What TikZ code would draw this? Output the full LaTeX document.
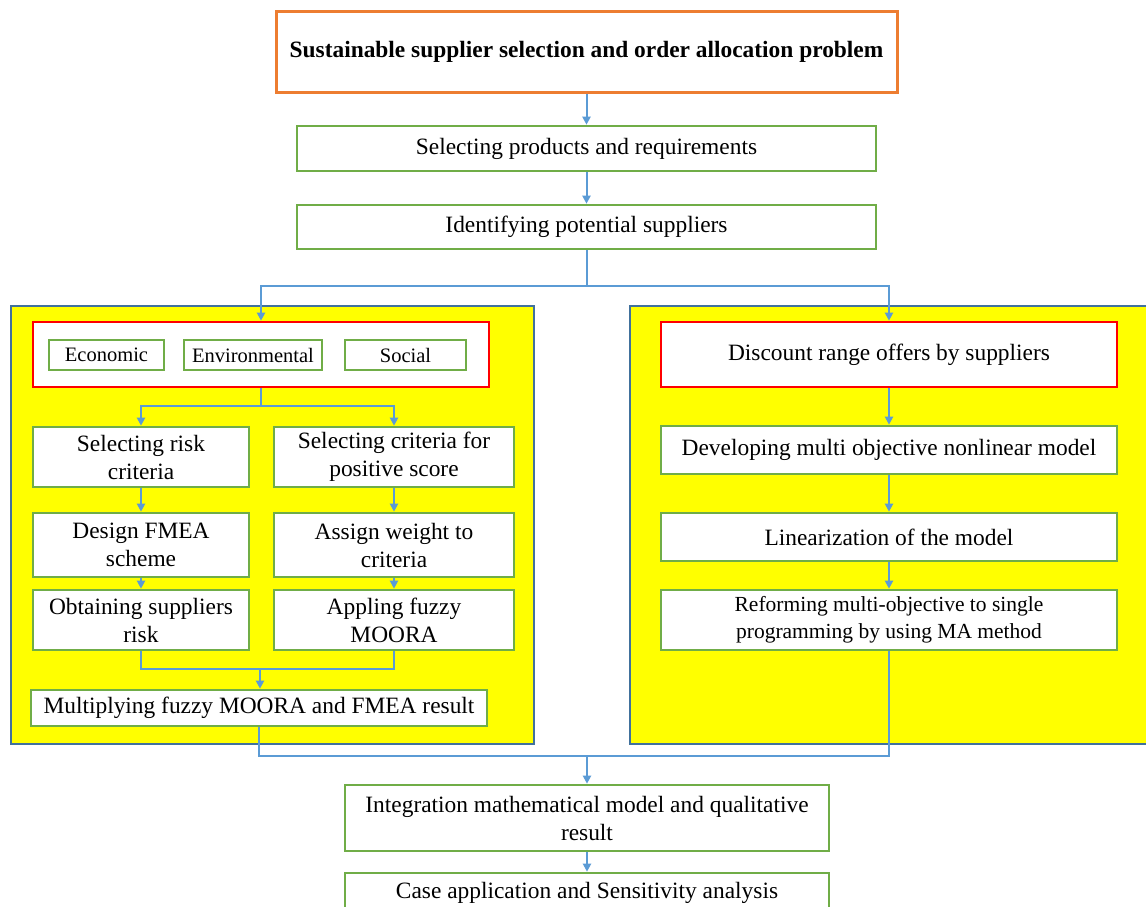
\documentclass[tikz,border=0pt]{standalone}
\usepackage{fontspec}
\setmainfont{Liberation Serif}
\usetikzlibrary{arrows.meta,calc}
\definecolor{orangeb}{HTML}{ED7D31}
\definecolor{greenb}{HTML}{70AD47}
\definecolor{redb}{HTML}{FF0000}
\definecolor{arrowc}{HTML}{5B9BD5}
\definecolor{panelb}{HTML}{41719C}
\definecolor{yel}{HTML}{FFFF00}
\tikzset{
  base/.style={draw, fill=white, inner sep=0pt, align=center, font=\fontsize{23.4}{28}\selectfont},
  gbox/.style={base, draw=greenb, line width=2.6pt},
  obox/.style={base, draw=orangeb, line width=3pt, font=\fontsize{23.4}{28}\selectfont\bfseries},
  rbox/.style={base, draw=redb, line width=2.6pt},
  smallbox/.style={gbox, font=\fontsize{20.5}{24}\selectfont},
  panel/.style={draw=panelb, fill=yel, line width=2.6pt, inner sep=0pt},
  conn/.style={draw=arrowc, line width=2pt},
  arr/.style={conn, -{Triangle[length=8pt,width=8pt]}},
}
\begin{document}
\begin{tikzpicture}[x=1pt,y=-1pt]
\useasboundingbox (0,0) rectangle (1146,907);
\fill[white] (0,0) rectangle (1146,907);
% panels
\node[panel, minimum width=523, minimum height=438] (lpanel) at (272.5,525) {};
\node[panel, minimum width=530, minimum height=438] (rpanel) at (895,525) {};
% top flow
\node[obox, minimum width=621, minimum height=80] (top) at (586.5,52) {Sustainable supplier selection and order allocation problem};
\node[gbox, minimum width=579, minimum height=45] (sel) at (586.5,148.5) {Selecting products and requirements};
\node[gbox, minimum width=579, minimum height=44] (ident) at (586.5,227) {Identifying potential suppliers};
% left panel
\node[rbox, minimum width=456, minimum height=65] (redL) at (261,354.5) {};
\node[smallbox, minimum width=115, minimum height=30] (eco) at (106.5,355) {Economic};
\node[smallbox, minimum width=138, minimum height=30] (env) at (253,355) {Environmental};
\node[smallbox, minimum width=121, minimum height=30] (soc) at (405.5,355) {Social};
\node[gbox, minimum width=216, minimum height=60] (risk) at (141,457) {Selecting risk\\criteria};
\node[gbox, minimum width=240, minimum height=60] (pos) at (394,457) {Selecting criteria for\\positive score};
\node[gbox, minimum width=216, minimum height=64] (fmea) at (141,545) {Design FMEA\\scheme};
\node[gbox, minimum width=240, minimum height=64] (weight) at (394,545) {Assign weight to\\criteria};
\node[gbox, minimum width=216, minimum height=60] (obt) at (141,620) {Obtaining suppliers\\risk};
\node[gbox, minimum width=240, minimum height=60] (moora) at (394,620) {Appling fuzzy\\MOORA};
\node[gbox, minimum width=456, minimum height=36] (mult) at (259,708) {Multiplying fuzzy MOORA and FMEA result};
% right panel
\node[rbox, minimum width=456, minimum height=65] (disc) at (889,354.5) {Discount range offers by suppliers};
\node[gbox, minimum width=456, minimum height=48] (dev) at (889,450) {Developing multi objective nonlinear model};
\node[gbox, minimum width=456, minimum height=48] (lin) at (889,537) {Linearization of the model};
\node[gbox, minimum width=456, minimum height=60, font=\fontsize{21.5}{27}\selectfont] (ref) at (889,620) {Reforming multi-objective to single\\programming by using MA method};
% bottom
\node[gbox, minimum width=484, minimum height=66] (integ) at (587,818) {Integration mathematical model and qualitative\\result};
\node[gbox, minimum width=484, minimum height=40] (case) at (587,893) {Case application and Sensitivity analysis};
% connectors
\draw[arr] (top) -- (sel);
\draw[arr] (sel) -- (ident);
\draw[conn] (ident.south) -- ++(0,36) coordinate (f0);
\draw[arr] (f0) -| (redL.north);
\draw[arr] (f0) -| (disc.north);
\draw[conn] (redL.south) -- ++(0,18) coordinate (f1);
\draw[arr] (f1) -| (risk.north);
\draw[arr] (f1) -| (pos.north);
\draw[arr] (risk) -- (fmea);
\draw[arr] (fmea) -- (obt);
\draw[arr] (pos) -- (weight);
\draw[arr] (weight) -- (moora);
\draw[conn] (obt.south) -- ++(0,18) -| (moora.south);
\coordinate (j1) at ($(obt.south)+(119,18)$);
\draw[arr] (j1) -- (j1 |- mult.north);
\draw[arr] (disc) -- (dev);
\draw[arr] (dev) -- (lin);
\draw[arr] (lin) -- (ref);
\draw[conn] (mult.south) -- ++(0,29) coordinate (j2) -| (ref.south);
\draw[arr] (j2 -| integ.north) -- (integ.north);
\draw[arr] (integ) -- (case);
\end{tikzpicture}
\end{document}
